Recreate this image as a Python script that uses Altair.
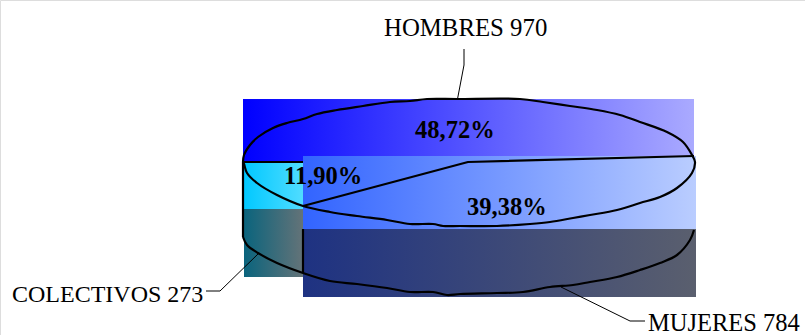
import altair as alt
import pandas as pd

# Gradient panels behind the pie: left, right, top, bottom, start colour, end colour
panel_names = ["hombres", "colectivos_top", "mujeres_top", "colectivos_side", "mujeres_side"]
panel_x0 = [243, 243, 303, 244, 303]
panel_x1 = [694, 303, 696, 303, 696]
panel_y0 = [99, 162, 156, 209, 229]
panel_y1 = [162, 209, 229, 277, 297]
panel_start = ["#0000ff", "#00c8ff", "#3264ff", "#0a647d", "#1e3282"]
panel_end = ["#aaaaff", "#50dcff", "#bacdff", "#647378", "#5a5f6e"]

# Pie outline traced as polylines
top_rim_x = [243, 244, 250, 258, 273, 287, 303, 317, 337, 363, 390, 410, 427, 457, 520, 543, 570,
             597, 620, 640, 667, 683, 692, 695, 692, 677, 660, 640, 617, 590, 573, 550, 530, 497,
             460, 443, 433, 410, 387, 357, 330, 303, 277, 257, 247, 244, 243]
top_rim_y = [162, 155, 145, 137, 128, 123, 119, 114, 110, 106, 102, 101, 99, 99, 99, 102, 106,
             110, 115, 122, 132, 142, 155, 162, 173, 188, 197, 203, 210, 215, 218, 222, 224, 226,
             226, 226, 224, 224, 220, 216, 212, 206, 195, 183, 173, 164, 162]
bottom_rim_x = [243, 247, 258, 277, 303, 330, 357, 387, 410, 433, 447, 460, 497, 523, 550, 573,
                590, 617, 640, 660, 677, 690, 694]
bottom_rim_y = [237, 245, 253, 263, 273, 281, 284, 288, 292, 292, 295, 294, 293, 292, 287, 285,
                282, 277, 270, 263, 255, 240, 230]
left_edge_x = [243, 243]
left_edge_y = [162, 237]
middle_edge_x = [303, 303]
middle_edge_y = [229, 273]
back_edge_x = [243, 303]
back_edge_y = [162, 162]
slice_edge_x = [303, 468, 694]
slice_edge_y = [206, 162, 156]

# Leader lines from each category label to its slice
leader_hombres_x = [457.5, 464, 464]
leader_hombres_y = [99, 65, 49]
leader_colectivos_x = [258, 220, 206]
leader_colectivos_y = [254, 291, 291]
leader_mujeres_x = [561, 630, 645]
leader_mujeres_y = [287, 321, 321]

# Category labels and percentage labels
category_text = ["HOMBRES 970", "COLECTIVOS 273", "MUJERES 784"]
category_x = [384, 12, 648]
category_y = [36, 302, 331]
percent_text = ["48,72%", "11,90%", "39,38%"]
percent_x = [415, 284, 467]
percent_y = [138, 184, 215]

x_scale = alt.Scale(domain=[0, 805], range=[0, 805], nice=False, zero=False)
y_scale = alt.Scale(domain=[0, 335], range=[0, 335], nice=False, zero=False)
x_enc = alt.X("x:Q", scale=x_scale, axis=None)
y_enc = alt.Y("y:Q", scale=y_scale, axis=None)


def panel(i):
    gradient = alt.Gradient(
        gradient="linear",
        x1=0, x2=1, y1=0, y2=0,
        stops=[
            alt.GradientStop(color=panel_start[i], offset=0),
            alt.GradientStop(color=panel_end[i], offset=1),
        ],
    )
    frame = pd.DataFrame([{
        "name": panel_names[i],
        "x": panel_x0[i], "x2": panel_x1[i],
        "y": panel_y0[i], "y2": panel_y1[i],
    }])
    return alt.Chart(frame).mark_rect(color=gradient).encode(
        x=x_enc, x2="x2:Q", y=y_enc, y2="y2:Q"
    )


def polyline(xs, ys, width, interpolate="linear"):
    frame = pd.DataFrame({"x": xs, "y": ys, "seq": range(len(xs))})
    return alt.Chart(frame).mark_line(
        color="#000000", strokeWidth=width, strokeJoin="round", interpolate=interpolate
    ).encode(x=x_enc, y=y_enc, order="seq:Q")


def label(text, x, y, size, weight):
    frame = pd.DataFrame({"t": [text], "x": [x], "y": [y]})
    return alt.Chart(frame).mark_text(
        font="Liberation Serif", fontSize=size, fontWeight=weight,
        align="left", baseline="alphabetic", color="#000000",
    ).encode(x=x_enc, y=y_enc, text="t:N")


layers = [panel(i) for i in range(len(panel_names))]
layers += [
    polyline(top_rim_x, top_rim_y, 2.2, "catmull-rom"),
    polyline(bottom_rim_x, bottom_rim_y, 2.2, "catmull-rom"),
    polyline(left_edge_x, left_edge_y, 2.2),
    polyline(middle_edge_x, middle_edge_y, 2.2),
    polyline(back_edge_x, back_edge_y, 2.2),
    polyline(slice_edge_x, slice_edge_y, 2.2),
    polyline(leader_hombres_x, leader_hombres_y, 1),
    polyline(leader_colectivos_x, leader_colectivos_y, 1),
    polyline(leader_mujeres_x, leader_mujeres_y, 1),
]
category_sizes = [24.8, 24, 24.5]
layers += [
    label(t, x, y, s, "normal")
    for t, x, y, s in zip(category_text, category_x, category_y, category_sizes)
]
layers += [
    label(t, x, y, 24.5, "bold")
    for t, x, y in zip(percent_text, percent_x, percent_y)
]

chart = (
    alt.layer(*layers)
    .properties(width=805, height=335, padding=0, autosize=alt.AutoSizeParams(type="none"))
    .configure_view(stroke=None)
    .configure(background="#ffffff")
)

chart.save("out.html", embed_options={"renderer": "svg", "actions": False})
